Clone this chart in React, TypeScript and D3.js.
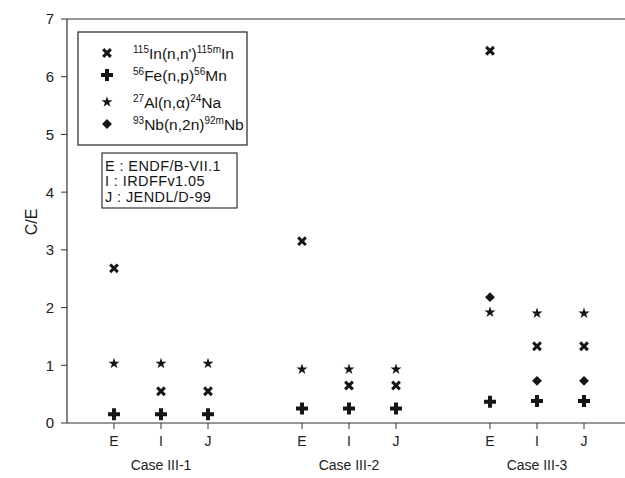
import React from 'react';
import * as d3 from 'd3';

// categories (libraries) and cases
const libraries = ['E', 'I', 'J'];
const cases = ['Case III-1', 'Case III-2', 'Case III-3'];
// x position of each library inside a case, cases spaced 4 units apart
const positions = [1, 2, 3, 5, 6, 7, 9, 10, 11];

// C/E values, ordered Case III-1 (E,I,J), III-2 (E,I,J), III-3 (E,I,J)
const inValues = [2.68, 0.55, 0.55, 3.15, 0.65, 0.65, 6.45, 1.33, 1.33];
const feValues = [0.15, 0.15, 0.15, 0.25, 0.25, 0.25, 0.37, 0.38, 0.38];
const alValues = [1.03, 1.03, 1.03, 0.93, 0.93, 0.93, 1.92, 1.9, 1.9];
// Nb only measured in case III-3
const nbValues = [null, null, null, null, null, null, 2.18, 0.73, 0.73];

const yTicks = [0, 1, 2, 3, 4, 5, 6, 7];
const libraryNotes = ['E : ENDF/B-VII.1', 'I : IRDFFv1.05', 'J : JENDL/D-99'];

const FONT = 'Arial, "Liberation Sans", Helvetica, sans-serif';
const INK = '#151515';

type Kind = 'x' | 'plus' | 'star' | 'diamond';

const symbolPath = (kind: Kind) => {
  if (kind === 'x') return d3.symbol(d3.symbolX, 40)() as string;
  if (kind === 'plus') return d3.symbol(d3.symbolCross, 80)() as string;
  if (kind === 'star') return d3.symbol(d3.symbolStar, 38)() as string;
  return d3.symbol(d3.symbolDiamond2, 62)() as string;
};

const Marker = ({ kind, x, y }: { kind: Kind; x: number; y: number }) => {
  const d = symbolPath(kind);
  if (kind === 'x') {
    return <path d={d} transform={`translate(${x},${y})`} fill="none" stroke={INK} strokeWidth={3} />;
  }
  return <path d={d} transform={`translate(${x},${y})`} fill={INK} />;
};

const series: { name: string; kind: Kind; values: (number | null)[] }[] = [
  { name: 'In', kind: 'x', values: inValues },
  { name: 'Fe', kind: 'plus', values: feValues },
  { name: 'Al', kind: 'star', values: alValues },
  { name: 'Nb', kind: 'diamond', values: nbValues },
];

const App = () => {
  const width = 625;
  const height = 478;
  const left = 67;
  const top = 19;
  const bottom = 423;

  const x = d3.scaleLinear().domain([0, 12]).range([left, left + 12 * 47]);
  const y = d3.scaleLinear().domain([0, 7]).range([bottom, top]);

  const sup = { fontSize: 10 } as React.CSSProperties;

  return (
    <svg width={width} height={height} style={{ position: 'absolute', left: 0, top: 0 }} fontFamily={FONT}>
      <rect width={width} height={height} fill="#fff" />
      {/* frame lines */}
      <line x1={left} x2={width} y1={top} y2={top} stroke="#333" strokeWidth={1.2} />
      <line x1={left} x2={width} y1={bottom} y2={bottom} stroke="#333" strokeWidth={1.2} />
      <line x1={left} x2={left} y1={top} y2={bottom} stroke="#333" strokeWidth={1.2} />

      {/* y axis ticks */}
      {yTicks.map((t) => (
        <g key={t}>
          <line x1={left - 6} x2={left} y1={y(t)} y2={y(t)} stroke="#333" strokeWidth={1} />
          <text x={left - 13} y={y(t)} dy="0.36em" textAnchor="end" fontSize={15} fill="#222">
            {t}
          </text>
        </g>
      ))}
      <text transform={`translate(37,${(top + bottom) / 2 + 1}) rotate(-90)`} textAnchor="middle" fontSize={16} fill="#222">
        C/E
      </text>

      {/* x axis ticks */}
      {positions.map((p, i) => (
        <g key={p}>
          <line x1={x(p)} x2={x(p)} y1={bottom} y2={bottom + 6} stroke="#333" strokeWidth={1} />
          <text x={x(p)} y={bottom + 18} dy="0.36em" textAnchor="middle" fontSize={14} fill="#222">
            {libraries[i % 3]}
          </text>
        </g>
      ))}
      {cases.map((c, i) => (
        <text key={c} x={x(positions[i * 3 + 1])} y={bottom + 42} dy="0.36em" textAnchor="middle" fontSize={14} fill="#222">
          {c}
        </text>
      ))}

      {/* markers */}
      {series.map((s) =>
        s.values.map((v, i) =>
          v === null ? null : <Marker key={s.name + i} kind={s.kind} x={x(positions[i])} y={y(v)} />
        )
      )}

      {/* reaction legend */}
      <rect x={78} y={32} width={169} height={113} fill="#fff" stroke="#333" strokeWidth={1.3} />
      <Marker kind="x" x={107} y={53} />
      <Marker kind="plus" x={107} y={75} />
      <Marker kind="star" x={107} y={102} />
      <Marker kind="diamond" x={107} y={124} />
      <text x={133} y={59} fontSize={15.5} fill={INK}>
        <tspan style={sup} dy={-6}>115</tspan>
        <tspan dy={6}>In(n,n')</tspan>
        <tspan style={sup} dy={-6}>115m</tspan>
        <tspan dy={6}>In</tspan>
      </text>
      <text x={133} y={81} fontSize={15.5} fill={INK}>
        <tspan style={sup} dy={-6}>56</tspan>
        <tspan dy={6}>Fe(n,p)</tspan>
        <tspan style={sup} dy={-6}>56</tspan>
        <tspan dy={6}>Mn</tspan>
      </text>
      <text x={133} y={108} fontSize={15.5} fill={INK}>
        <tspan style={sup} dy={-6}>27</tspan>
        <tspan dy={6}>Al(n,α)</tspan>
        <tspan style={sup} dy={-6}>24</tspan>
        <tspan dy={6}>Na</tspan>
      </text>
      <text x={133} y={130} fontSize={15.5} fill={INK}>
        <tspan style={sup} dy={-6}>93</tspan>
        <tspan dy={6}>Nb(n,2n)</tspan>
        <tspan style={sup} dy={-6}>92m</tspan>
        <tspan dy={6}>Nb</tspan>
      </text>

      {/* library legend */}
      <rect x={102} y={153} width={135} height={55} fill="#fff" stroke="#333" strokeWidth={1.2} />
      {libraryNotes.map((n, i) => (
        <text key={n} x={105} y={171 + i * 15.4} fontSize={14.5} letterSpacing={0.4} fill={INK}>
          {n}
        </text>
      ))}
    </svg>
  );
};

export default App;
